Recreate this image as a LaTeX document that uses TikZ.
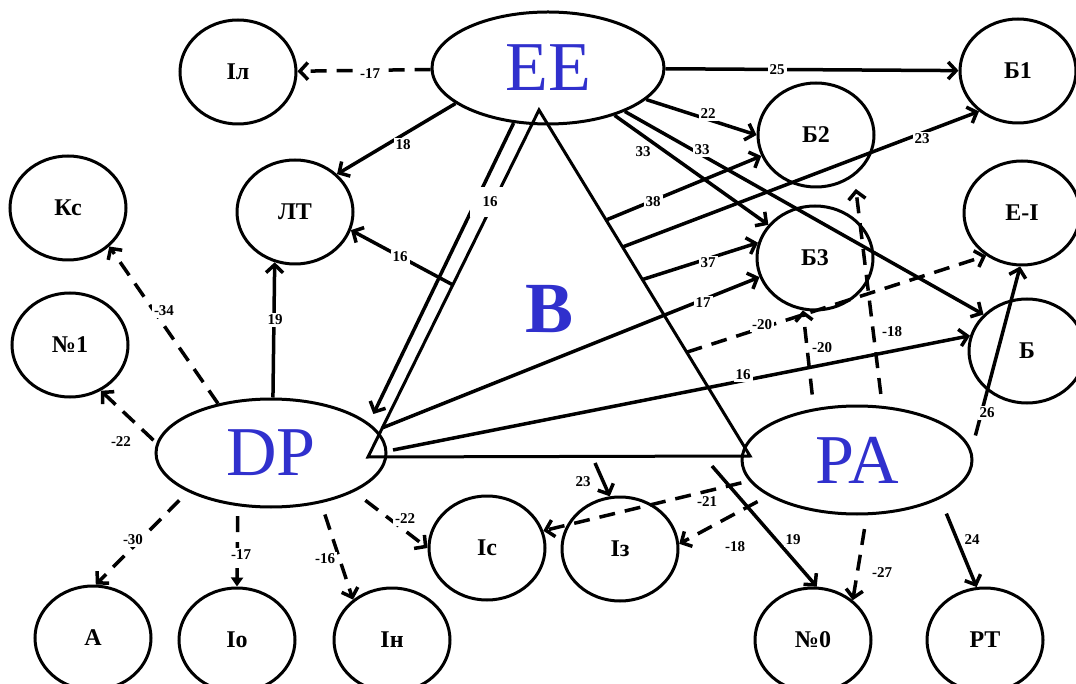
\documentclass[tikz,border=0pt]{standalone}
\usepackage{fontspec}
\setmainfont{Liberation Serif}
\usetikzlibrary{arrows.meta,calc,shapes.geometric}
\definecolor{letterblue}{RGB}{48,48,205}
\tikzset{
	unit/.style={draw, ellipse, line width=3pt, minimum width=116pt, minimum height=104pt, inner sep=0pt, font=\fontsize{24}{26}\selectfont\bfseries},
	group/.style={draw, ellipse, line width=3pt, inner sep=0pt, text=letterblue, font=\fontsize{70}{70}\selectfont},
	link/.style={line width=3.5pt, -{Straight Barb[length=8pt,width=17pt]}},
	dlink/.style={link, dash pattern=on 16pt off 10pt},
	val/.style={fill=white, inner sep=2pt, font=\fontsize{15}{17}\selectfont\bfseries},
}

\begin{document}
\begin{tikzpicture}[x=1pt,y=-1pt]
	\useasboundingbox (0,0) rectangle (1076,684);
	
	% groups
	\node[group, minimum width=232pt, minimum height=112pt] (EE) at (548,68) {EE};
	\node[group, minimum width=230pt, minimum height=108pt] (DP) at (271,453) {DP};
	\node[group, minimum width=230pt, minimum height=108pt] (PA) at (857,460) {PA};
	
	% units
	\node[unit] (Il) at (238,72) {Іл};
	\node[unit] (Ks) at (68,208) {Кс};
	\node[unit] (LT) at (295,212) {ЛТ};
	\node[unit] (N1) at (70,345) {№1};
	\node[unit] (A) at (93,638) {А};
	\node[unit] (Io) at (237,640) {Іо};
	\node[unit] (In) at (392,640) {Ін};
	\node[unit] (Is) at (487,548) {Іс};
	\node[unit] (Iz) at (620,549) {Із};
	\node[unit] (N0) at (813,640) {№0};
	\node[unit] (RT) at (985,640) {РТ};
	\node[unit] (B1) at (1018,71) {Б1};
	\node[unit] (B2) at (816,135) {Б2};
	\node[unit] (B3) at (815,258) {Б3};
	\node[unit] (EI) at (1022,213) {Е-І};
	\node[unit] (B) at (1027,351) {Б};
	
	% triangle B
	\coordinate (tA) at (539,110);
	\coordinate (tL) at (368,457);
	\coordinate (tR) at (750,456);
	\draw[line width=3pt] (tA) -- (tL) -- (tR) -- cycle;
	\node[text=letterblue, font=\fontsize{72}{72}\selectfont\bfseries] (Bv) at (550,309) {В};
	\coordinate (vLT) at ($(tA)!0.504!(tL)$);
	\coordinate (vB2) at ($(tA)!0.318!(tR)$);
	\coordinate (vB1) at ($(tA)!0.396!(tR)$);
	\coordinate (vB3) at ($(tA)!0.49!(tR)$);
	\coordinate (vEI) at ($(tA)!0.70!(tR)$);
	\coordinate (vIz) at (595,463);
	\coordinate (vN0) at (712,466);
	\coordinate (dp17) at ($(tA)!0.916!(tL)$);
	\coordinate (dp16) at (393,450);
	
	% from EE
	\draw[dlink] (EE) -- (Il); \node[val] (l1) at (370,74) {-17};
	\draw[link] (EE.-159) -- (LT.42); \node[val] (l2) at (403,145) {18};
	\draw[link, shorten >=10pt] (EE.-122) -- (DP.17); \node[val, minimum width=40pt, minimum height=30pt] (l3) at (490,202) {16};
	\draw[link] (EE) -- (B1); \node[val] (l4) at (777,70) {25};
	\draw[link] (EE) -- (B2.west); \node[val] (l5) at (708,114) {22};
	\draw[link] (EE) -- (B3); \node[val] (l6) at (643,152) {33};
	\draw[link] (EE) -- (B.140); \node[val] (l7) at (702,150) {33};
	
	% from B
	\draw[link] (vLT) -- (LT.-18); \node[val] (l8) at (400,257) {16};
	\draw[link] (vB2) -- (B2.201); \node[val] (l9) at (653,202) {38};
	\draw[link] (vB1) -- (B1.-134); \node[val] (l10) at (922,139) {23};
	\draw[link] (vB3) -- (B3.165); \node[val] (l11) at (708,263) {37};
	\draw[dlink] (vEI) -- (EI.230); \node[val] (l12) at (762,325) {-20};
	\draw[link] (vIz) -- (Iz.101); \node[val] (l13) at (583,482) {23};
	\draw[link] (vN0) -- (N0.86); \node[val] (l14) at (793,540) {19};
	
	% from DP
	\draw[link] (dp17) -- (B3.199); \node[val] (l15) at (703,303) {17};
	\draw[link] (dp16) -- (B.165); \node[val] (l16) at (743,375) {16};
	\draw[dlink] (DP.137) -- (Ks.-43); \node[val] (l17) at (164,311) {-34};
	\draw[link] (DP.88) -- (LT.-112); \node[val] (l18) at (275,320) {19};
	\draw[dlink, shorten <=4pt] (DP.175) -- (N1.-56); \node[val] (l19) at (121,442) {-22};
	\draw[dlink, shorten <=12pt] (DP.-155) -- (A.87); \node[val] (l20) at (133,540) {-30};
	\draw[line width=3.5pt, dash pattern=on 16pt off 10pt, -{Triangle[length=9pt,width=12pt]}, shorten <=10pt] (DP.-122) -- (Io.north); \node[val] (l21) at (241,555) {-17};
	\draw[dlink, shorten <=12pt] (DP.-45) -- (In.134); \node[val] (l22) at (325,559) {-16};
	\draw[dlink, shorten <=14pt] (DP.-25) -- (Is.west); \node[val] (l23) at (405,519) {-22};
	
	% from PA
	\draw[dlink, shorten <=14pt] (PA.130) -- (B3.-103); \node[val] (l24) at (822,348) {-20};
	\draw[dlink, shorten <=12pt, shorten >=13pt] (PA.65) -- (B2.-47); \node[val] (l25) at (892,332) {-18};
	\draw[link, shorten <=15pt] (PA.5) -- (EI.-92); \node[val] (l26) at (987,413) {26};
	\draw[dlink, shorten <=8pt] (PA.-169) -- (Is.17); \node[val] (l27) at (707,502) {-21};
	\draw[dlink, shorten <=12pt] (PA.-158) -- (Iz.5); \node[val] (l28) at (735,547) {-18};
	\draw[dlink, shorten <=14pt] (PA.-80) -- (N0.45); \node[val] (l29) at (882,573) {-27};
	\draw[link, shorten <=16pt] (PA.-25) -- (RT.99); \node[val] (l30) at (972,540) {24};
	
\end{tikzpicture}
\end{document}
